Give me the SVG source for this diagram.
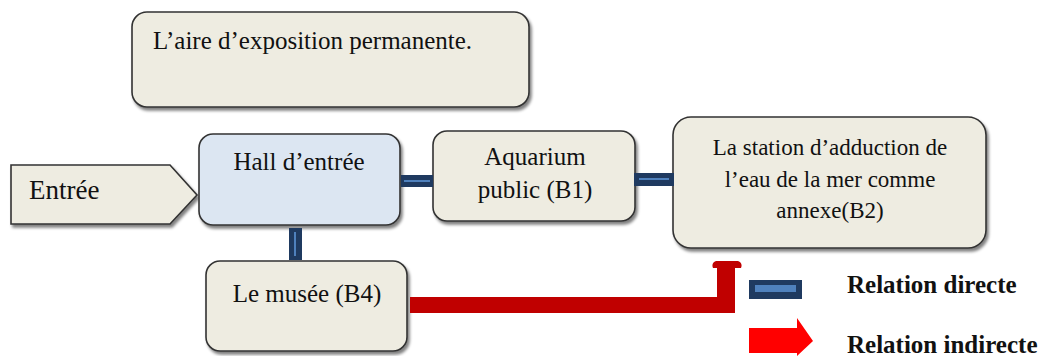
<svg xmlns="http://www.w3.org/2000/svg" width="1043" height="356" viewBox="0 0 1043 356">
<defs>
<filter id="sh" x="-10%" y="-10%" width="130%" height="140%">
<feGaussianBlur in="SourceAlpha" stdDeviation="1.5"/>
<feOffset dx="2" dy="3" result="o"/>
<feComponentTransfer><feFuncA type="linear" slope="0.5"/></feComponentTransfer>
<feMerge><feMergeNode/><feMergeNode in="SourceGraphic"/></feMerge>
</filter>
</defs>
<style>
.box{fill:#eeece1;stroke:#333;stroke-width:1.6;filter:url(#sh)}
.hall{fill:#dce6f2;stroke:#333;stroke-width:1.6;filter:url(#sh)}
text{font-family:"Liberation Serif","Times New Roman",serif;fill:#111}
.t{font-size:25px}
.c{text-anchor:middle}
.s{font-size:23px}
.leg{font-size:25px;font-weight:bold}
.lnk{fill:#1f3a60}
.lin{fill:#4f81bd}
</style>
<rect width="1043" height="356" fill="#fff"/>
<g id="expo">
<rect class="box" x="132" y="12" width="397" height="95" rx="15"/>
<text class="t" x="153" y="49">L’aire d’exposition permanente.</text>
</g>
<g id="entree">
<path class="box" d="M11 165 H170 L197 195 L170 224 H11 Z"/>
<text x="29" y="199" style="font-size:27px">Entrée</text>
</g>
<g id="hall">
<rect class="hall" x="199" y="134" width="201" height="91" rx="14"/>
<text class="t c" x="299" y="170">Hall d’entrée</text>
</g>
<g id="musee">
<rect class="box" x="206" y="261" width="201" height="90" rx="14"/>
<text class="t c" x="307" y="302">Le musée (B4)</text>
</g>
<g id="aquarium">
<rect class="box" x="433" y="131" width="202" height="90" rx="14"/>
<text class="t c" x="535" y="165">Aquarium</text>
<text class="t c" x="535" y="198">public (B1)</text>
</g>
<g id="station">
<rect class="box" x="673" y="117" width="313" height="131" rx="18"/>
<text class="s c" x="830" y="155">La station d’adduction de</text>
<text class="s c" x="830" y="187">l’eau de la mer comme</text>
<text class="s c" x="830" y="218">annexe(B2)</text>
</g>
<g id="connectors">
<rect class="lnk" x="401" y="175" width="32" height="12"/>
<rect class="lin" x="404" y="180" width="26" height="2"/>
<rect class="lnk" x="634" y="173" width="40" height="13"/>
<rect class="lin" x="639" y="178" width="30" height="2"/>
<rect class="lnk" x="289" y="228" width="13" height="32"/>
<rect class="lin" x="294" y="232" width="2" height="24"/>
<path fill="#c00000" d="M410 297 H717 V268 H713 Q711 263 716 261 H738 Q743 263 741 268 H735 V313 H410 Z"/>
</g>
<g id="legend">
<rect class="lnk" x="749" y="280" width="53" height="19"/>
<rect class="lin" x="755" y="285" width="41" height="7"/>
<text class="leg" x="847" y="293">Relation directe</text>
<path fill="#ff0000" d="M749 328 H797 V318 L813 341 L797 356 V353 H749 Z"/>
<text class="leg" x="847" y="353">Relation indirecte</text>
</g>
</svg>
